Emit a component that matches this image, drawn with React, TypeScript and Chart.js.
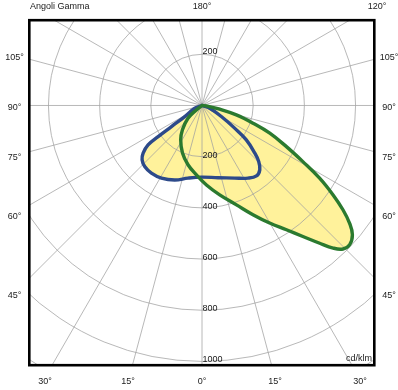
import React, { useEffect, useRef } from "react";
import { Chart, registerables } from "chart.js";

Chart.register(...registerables);

// Gamma angle in degrees (0 = nadir, negative = left half) and intensity in cd/klm, in path order
const blueAngles = [0, -69.7, -57.3, -55.4, -54.7, -53.9, -51, -47.8, -43.2, -36.8, -29.2, -20.1, -10.9, -0.5, 12.5, 24.2, 32.3, 37.7, 41.9, 45.3, 47.9, 52.2, 55.2, 60.2, 70.7, 0];
const blueValues = [0, 30, 80, 145, 210, 261, 296, 316, 327, 330, 325, 310, 289, 280, 289, 311, 336, 348, 338, 312, 278, 219, 155, 87, 32, 0];

const greenAngles = [0, -51.8, -47.8, -38.8, -31.8, -22.3, -13.3, -4.6, 3.2, 11.2, 19.1, 25, 29.9, 34.2, 37.6, 40.5, 42.6, 44.5, 46.7, 49.3, 51.4, 53.5, 55.7, 58.3, 60.9, 64, 67.8, 70.9, 74.7, 78.2, 84.8, 0];
const greenValues = [0, 28, 74, 122, 158, 201, 238, 272, 311, 356, 411, 471, 530, 587, 646, 708, 757, 786, 793, 775, 738, 685, 620, 540, 451, 367, 286, 211, 139, 71, 17, 0];

const gridRadii = [200, 400, 600, 800, 1000, 1200, 1400];
const spokeStep = 15;
const radialTickLabels = ["200", "400", "600", "800", "1000"];
const radialTickValues = [200, 400, 600, 800, 1000];
const topTickLabel = "200";
const sideTickLabels = ["105°", "90°", "75°", "60°", "45°"];
const bottomTickLabels = ["30°", "15°", "0°", "15°", "30°"];
const topLabels = ["Angoli Gamma", "180°", "120°"];
const unitLabel = "cd/klm";

const BLUE = "#2d4a8a";
const GREEN = "#2b7a2f";
const FILL = "#fff29b";
const GRID = "#a0a0a0";
const FONT = "9px 'Liberation Sans', Arial, sans-serif";

function toXY(angles: number[], values: number[]) {
  return angles.map((a, i) => {
    const t = (a * Math.PI) / 180;
    return { x: values[i] * Math.sin(t), y: -values[i] * Math.cos(t) };
  });
}

const gridPlugin = {
  id: "polarGrid",
  beforeDatasetsDraw(chart: any) {
    const { ctx, chartArea, scales } = chart;
    const xs = scales.x, ys = scales.y;
    const cx = xs.getPixelForValue(0), cy = ys.getPixelForValue(0);
    ctx.save();
    ctx.beginPath();
    ctx.rect(chartArea.left, chartArea.top, chartArea.right - chartArea.left, chartArea.bottom - chartArea.top);
    ctx.clip();
    ctx.strokeStyle = GRID;
    ctx.lineWidth = 0.75;
    gridRadii.forEach((r) => {
      const rx = xs.getPixelForValue(r) - cx;
      const ry = cy - ys.getPixelForValue(r);
      ctx.beginPath();
      ctx.ellipse(cx, cy, rx, ry, 0, 0, Math.PI * 2);
      ctx.stroke();
    });
    const rMax = gridRadii[gridRadii.length - 1];
    for (let a = 0; a < 360; a += spokeStep) {
      const t = (a * Math.PI) / 180;
      ctx.beginPath();
      ctx.moveTo(cx, cy);
      ctx.lineTo(xs.getPixelForValue(rMax * Math.sin(t)), ys.getPixelForValue(-rMax * Math.cos(t)));
      ctx.stroke();
    }
    ctx.restore();
  },
};

const framePlugin = {
  id: "frameLabels",
  afterDraw(chart: any) {
    const { ctx, chartArea, scales } = chart;
    const xs = scales.x, ys = scales.y;
    const cx = xs.getPixelForValue(0);
    ctx.save();
    ctx.strokeStyle = "#000";
    ctx.lineWidth = 2.6;
    ctx.strokeRect(chartArea.left + 0.3, chartArea.top + 0.2, chartArea.right - chartArea.left, chartArea.bottom - chartArea.top);

    ctx.fillStyle = "#1a1a1a";
    ctx.font = FONT;
    ctx.textBaseline = "middle";
    ctx.textAlign = "left";
    radialTickValues.forEach((v, i) => {
      ctx.fillText(radialTickLabels[i], cx + 0.5, ys.getPixelForValue(-v) - 1.5);
    });
    ctx.fillText(topTickLabel, cx + 0.5, ys.getPixelForValue(radialTickValues[0]) - 2.5);

    ctx.textAlign = "left";
    ctx.fillText(topLabels[0], 30, 6.5);
    ctx.textAlign = "center";
    ctx.fillText(topLabels[1], cx, 6.5);
    ctx.fillText(topLabels[2], 377, 6.5);

    const sideY = [57.5, 107.3, 157.3, 216.5, 295.5];
    sideTickLabels.forEach((t, i) => {
      ctx.textAlign = "center";
      ctx.fillText(t, 14.5, sideY[i]);
      ctx.fillText(t, 389, sideY[i]);
    });

    const bottomX = [45, 128, cx, 275, 360];
    bottomTickLabels.forEach((t, i) => {
      ctx.textAlign = "center";
      ctx.fillText(t, bottomX[i], 381.5);
    });

    ctx.textAlign = "right";
    ctx.fillText(unitLabel, chartArea.right - 2, chartArea.bottom - 6.5);
    ctx.restore();
  },
};

export default function App() {
  const ref = useRef<HTMLCanvasElement>(null);
  useEffect(() => {
    if (!ref.current) return;
    const common = {
      showLine: true,
      fill: "shape",
      backgroundColor: FILL,
      borderWidth: 3.4,
      pointRadius: 0,
      pointHoverRadius: 0,
      tension: 0.4,
      borderJoinStyle: "round",
      borderCapStyle: "round",
    };
    const chart = new Chart(ref.current, {
      type: "scatter",
      data: {
        datasets: [
          { ...common, label: "green", data: toXY(greenAngles, greenValues), borderColor: GREEN } as any,
          { ...common, label: "blue", data: toXY(blueAngles, blueValues), borderColor: BLUE } as any,
        ],
      },
      options: {
        responsive: false,
        animation: false,
        layout: { padding: { left: 29, top: 20, right: 24, bottom: 25 } },
        scales: {
          x: { type: "linear", min: -676, max: 672, display: false },
          y: { type: "linear", min: -1014, max: 334, display: false },
        },
        plugins: {
          legend: { display: false },
          tooltip: { enabled: false },
          filler: { drawTime: "beforeDatasetsDraw" },
        } as any,
      },
      plugins: [gridPlugin, framePlugin],
    });
    return () => chart.destroy();
  }, []);
  return (
    <div style={{ position: "absolute", left: 0, top: 0, width: 398, height: 390, background: "#fff" }}>
      <canvas ref={ref} width={398} height={390} style={{ display: "block", width: 398, height: 390 }} />
    </div>
  );
}
